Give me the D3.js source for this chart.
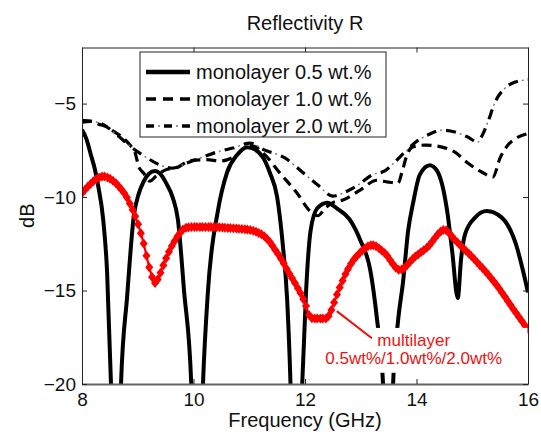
<!DOCTYPE html>
<html>
<head>
<meta charset="utf-8">
<script src="https://cdn.jsdelivr.net/npm/d3@7"></script>
<style>
  body { margin: 0; background: #fff; }
  svg { display: block; font-family: "Liberation Sans", Arial, Helvetica, sans-serif; }
</style>
</head>
<body>
<svg id="chart" width="541" height="432"></svg>
<script>
// data: [frequency GHz, dB]
let mono05 = [[8.00,-6.4],[8.08,-6.9],[8.16,-7.75],[8.23,-8.5],[8.29,-9.4],[8.38,-11.2],[8.45,-14.0],[8.52,-20],[8.61,-32],[8.70,-20],
  [8.81,-15.3],[8.93,-11.0],[9.02,-9.8],[9.10,-9.2],[9.20,-8.75],[9.31,-8.6],[9.40,-8.75],[9.50,-9.2],[9.63,-10.05],[9.72,-11.2],
  [9.83,-15],[9.96,-20],[10.06,-32],[10.17,-20],[10.26,-15],[10.44,-10.7],[10.60,-8.7],[10.78,-7.75],[10.96,-7.33],[11.10,-7.45],
  [11.25,-7.9],[11.37,-8.7],[11.50,-10.0],[11.60,-12.5],[11.68,-15.5],[11.74,-20],[11.83,-32],[11.95,-20],[12.02,-15],[12.10,-11.8],
  [12.22,-10.6],[12.40,-10.3],[12.57,-10.6],[12.80,-11.2],[12.99,-12.3],[13.17,-13.9],[13.29,-16.5],[13.40,-20],[13.48,-32],[13.58,-20],
  [13.67,-16.6],[13.76,-14.5],[13.85,-11.8],[13.94,-10.3],[14.06,-8.8],[14.24,-8.3],[14.37,-8.6],[14.55,-10.75],[14.64,-12.9],[14.74,-15.4],
  [14.80,-13.3],[14.87,-12.0],[15.05,-11.1],[15.26,-10.75],[15.53,-11.1],[15.77,-12.4],[16.00,-15.1]];

let mono10 = [[8.00,-6.0],[8.15,-5.95],[8.30,-6.1],[8.45,-6.25],[8.56,-6.47],[8.74,-6.84],[8.86,-7.22],[8.95,-7.6],[9.02,-8.4],[9.10,-8.7],
  [9.22,-9.15],[9.32,-8.9],[9.49,-8.56],[9.72,-8.4],[9.94,-8.05],[10.24,-8.0],[10.48,-8.07],[10.78,-7.75],[10.96,-7.3],[11.07,-7.27],
  [11.25,-7.65],[11.55,-8.72],[11.86,-9.8],[12.09,-10.75],[12.23,-11.0],[12.36,-10.6],[12.50,-10.3],[12.68,-10.16],[12.99,-9.63],[13.29,-9.1],
  [13.49,-9.2],[13.67,-9.25],[13.74,-8.66],[13.83,-7.75],[13.92,-7.33],[14.15,-7.22],[14.46,-7.33],[14.69,-7.6],[14.92,-8.18],[15.17,-8.66],
  [15.37,-8.93],[15.50,-7.9],[15.64,-7.22],[15.82,-6.8],[16.00,-6.6]];

let mono20 = [[8.00,-5.9],[8.32,-6.04],[8.63,-6.68],[8.86,-7.27],[9.17,-7.91],[9.40,-8.29],[9.63,-8.45],[9.88,-8.18],[10.12,-7.91],[10.48,-7.54],
  [10.71,-7.38],[11.01,-7.11],[11.28,-7.49],[11.64,-7.91],[11.95,-8.66],[12.23,-9.36],[12.50,-9.95],[12.72,-9.73],[12.95,-9.36],[13.20,-8.82],
  [13.43,-8.6],[13.61,-8.13],[13.79,-7.6],[13.97,-7.1],[14.20,-6.68],[14.46,-6.42],[14.69,-6.52],[14.92,-6.79],[15.10,-7.06],[15.18,-6.7],
  [15.28,-5.99],[15.41,-4.92],[15.59,-4.17],[15.77,-3.85],[16.00,-3.72]];

let multi = [[8.00,-9.8],[8.15,-9.3],[8.28,-9.0],[8.38,-8.9],[8.52,-9.05],[8.68,-9.5],[8.80,-10.0],[8.91,-10.7],[9.00,-11.4],[9.09,-12.3],
  [9.22,-13.9],[9.31,-14.6],[9.40,-14.1],[9.49,-13.4],[9.58,-12.8],[9.67,-12.3],[9.76,-11.9],[9.85,-11.66],[10.0,-11.6],[10.3,-11.6],
  [10.6,-11.65],[10.85,-11.7],[11.01,-11.76],[11.16,-11.9],[11.34,-12.3],[11.46,-12.8],[11.59,-13.4],[11.70,-14.0],[11.82,-14.6],[12.0,-15.67],
  [12.09,-16.4],[12.15,-16.5],[12.38,-16.5],[12.45,-16.2],[12.57,-15.24],[12.79,-13.74],[13.0,-12.94],[13.2,-12.57],[13.43,-13.0],[13.70,-13.9],
  [13.97,-13.2],[14.20,-12.67],[14.50,-11.75],[14.69,-12.3],[15.05,-13.37],[15.41,-14.6],[15.71,-15.88],[16.0,-17.1]];

let xTicks = [8, 10, 12, 14, 16];
let yTicks = [-20, -15, -10, -5];
let legendLabels = ['monolayer 0.5 wt.%', 'monolayer 1.0 wt.%', 'monolayer 2.0 wt.%'];
// annotation: pointer from curve to text, text lines
let notePointer = [[12.57, -16.1], [13.2, -17.55]];
let noteLines = ['multilayer', '0.5wt%/1.0wt%/2.0wt%'];

let svg = d3.select('#chart');
let m = {left: 82, top: 47.5, right: 528, bottom: 384};

let x = d3.scaleLinear().domain([8, 16]).range([m.left, m.right]);
let y = d3.scaleLinear().domain([-20, -2]).range([m.bottom, m.top]);

svg.append('defs').append('clipPath').attr('id', 'plotClip')
  .append('rect').attr('x', m.left).attr('y', m.top)
  .attr('width', m.right - m.left).attr('height', m.bottom - m.top);

let line = d3.line().x(d => x(d[0])).y(d => y(d[1])).curve(d3.curveMonotoneX);
let g = svg.append('g').attr('clip-path', 'url(#plotClip)');

// monolayer curves
g.append('path').attr('d', line(mono05))
  .attr('fill', 'none').attr('stroke', '#000').attr('stroke-width', 4);
g.append('path').attr('d', line(mono10))
  .attr('fill', 'none').attr('stroke', '#000').attr('stroke-width', 3.2)
  .attr('stroke-dasharray', '10,6');
g.append('path').attr('d', line(mono20))
  .attr('fill', 'none').attr('stroke', '#000').attr('stroke-width', 3.2)
  .attr('stroke-dasharray', '10,10');
g.append('path').attr('d', line(mono20))
  .attr('fill', 'none').attr('stroke', '#777').attr('stroke-width', 1.4)
  .attr('stroke-dasharray', '0,14,2,4');

// red multilayer curve + dense diamond markers (on top)
let redPath = g.append('path').attr('d', line(multi))
  .attr('fill', 'none').attr('stroke', '#ff0000').attr('stroke-width', 2.2);
let node = redPath.node();
let total = node.getTotalLength();
let nextX = m.left, marks = [];
for (let s = 0; s <= total; s += 0.5) {
  let p = node.getPointAtLength(s);
  if (p.x >= nextX) { marks.push(p); nextX += 2.8; }
}
g.selectAll('path.dia').data(marks).enter().append('path')
  .attr('class', 'dia')
  .attr('d', 'M0,-5L4,0L0,5L-4,0Z')
  .attr('transform', p => 'translate(' + p.x + ',' + p.y + ')')
  .attr('fill', '#ff0000');

// axes, ticks inside
let fmt = d => String(d).replace('-', '\u2212');
let axB = svg.append('g').attr('transform', 'translate(0,' + m.bottom + ')')
  .call(d3.axisBottom(x).tickValues(xTicks).tickSize(-5).tickSizeOuter(0).tickPadding(9).tickFormat(fmt));
let axT = svg.append('g').attr('transform', 'translate(0,' + m.top + ')')
  .call(d3.axisTop(x).tickValues(xTicks).tickSize(-5).tickSizeOuter(0).tickFormat(''));
let axL = svg.append('g').attr('transform', 'translate(' + m.left + ',0)')
  .call(d3.axisLeft(y).tickValues(yTicks).tickSize(-5).tickSizeOuter(0).tickPadding(6).tickFormat(fmt));
let axR = svg.append('g').attr('transform', 'translate(' + m.right + ',0)')
  .call(d3.axisRight(y).tickValues(yTicks).tickSize(-5).tickSizeOuter(0).tickFormat(''));
[axB, axT, axL, axR].forEach(a => {
  a.selectAll('text').attr('font-size', 19).attr('font-family', null).attr('fill', '#111');
  a.selectAll('line').attr('stroke', '#222');
  a.select('.domain').attr('stroke', '#222');
});
axB.select('.domain').attr('stroke', '#666').attr('stroke-width', 2);

// title and axis labels
svg.append('text').attr('x', (m.left + m.right) / 2).attr('y', 30)
  .attr('text-anchor', 'middle').attr('font-size', 20).attr('fill', '#111').text('Reflectivity R');
svg.append('text').attr('x', (m.left + m.right) / 2).attr('y', 427)
  .attr('text-anchor', 'middle').attr('font-size', 20).attr('fill', '#111').text('Frequency (GHz)');
svg.append('text').attr('transform', 'translate(34,' + (m.top + m.bottom) / 2 + ') rotate(-90)')
  .attr('text-anchor', 'middle').attr('font-size', 20).attr('fill', '#111').text('dB');

// annotation with white background box
let note = svg.append('g');
note.append('rect').attr('x', x(12.7)).attr('y', y(-17.0))
  .attr('width', x(15.99) - x(12.7)).attr('height', y(-19.4) - y(-17.0))
  .attr('fill', '#fff');
note.append('line')
  .attr('x1', x(notePointer[0][0])).attr('y1', y(notePointer[0][1]))
  .attr('x2', x(notePointer[1][0])).attr('y2', y(notePointer[1][1]))
  .attr('stroke', '#ee1111').attr('stroke-width', 2);
note.selectAll('text.note').data(noteLines).enter().append('text')
  .attr('class', 'note')
  .attr('x', x(13.95)).attr('y', (d, i) => y(-17.95) + i * 18)
  .attr('text-anchor', 'middle').attr('font-size', 17).attr('fill', '#ee1111')
  .text(d => d);

// legend
let lg = svg.append('g').attr('transform', 'translate(140,52)');
lg.append('rect').attr('width', 246).attr('height', 85)
  .attr('fill', '#fff').attr('stroke', '#222').attr('stroke-width', 1);
let rows = lg.selectAll('g.row').data(legendLabels).enter().append('g')
  .attr('class', 'row').attr('transform', (d, i) => 'translate(0,' + (20 + i * 27) + ')');
rows.append('text').attr('x', 56).attr('y', 7).attr('font-size', 20).attr('fill', '#111').text(d => d);
let dashes = ['none', '10,7', '8,10'];
rows.append('line').attr('x1', 6).attr('x2', 50).attr('stroke', '#000')
  .attr('stroke-width', (d, i) => i === 0 ? 4.5 : 3.5)
  .attr('stroke-dasharray', (d, i) => dashes[i]);
rows.filter((d, i) => i === 2).append('line').attr('x1', 6).attr('x2', 50)
  .attr('stroke', '#777').attr('stroke-width', 1.4).attr('stroke-dasharray', '0,12,2,4');
</script>
</body>
</html>
